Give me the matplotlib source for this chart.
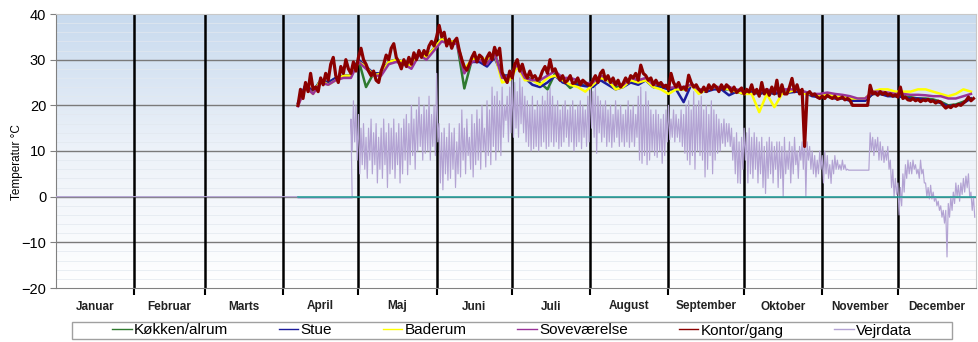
import numpy as np
import matplotlib
matplotlib.use("Agg")
import matplotlib.pyplot as plt
from matplotlib.colors import LinearSegmentedColormap
from matplotlib.patches import Rectangle
from matplotlib.lines import Line2D

plt.rcParams['font.family'] = ['Liberation Sans', 'DejaVu Sans']

# ---------------- data ----------------
months = ["Januar", "Februar", "Marts", "April", "Maj", "Juni", "Juli",
          "August", "September", "Oktober", "November", "December"]
month_starts = [0, 31, 59, 90, 120, 151, 181, 212, 243, 273, 304, 334, 365]
y_ticks = [-20, -10, 0, 10, 20, 30, 40]

series_names = ["Køkken/alrum", "Stue", "Baderum", "Soveværelse", "Kontor/gang", "Vejrdata"]
series_colors = ["#2f7a2f", "#1c1c9c", "#ffff00", "#993399", "#8b0000", "#b3a3d3"]

# Kontor/gang: daily values, day-of-year 96..364
kontor_days = list(range(96, 365))
kontor = [
    20.0, 23.5, 21.5, 25.0, 23.0, 27.0, 23.5, 24.0, 23.0, 26.0,
    24.5, 27.0, 25.5, 29.0, 30.5, 26.5, 25.0, 28.5, 27.0, 30.0,
    28.0, 27.0, 29.5, 27.5, 30.5, 32.5, 30.0, 29.0, 27.5, 26.5,
    27.5, 25.5, 25.0, 27.5, 29.0, 31.0, 30.0, 32.5, 33.5, 30.5,
    29.5, 28.0, 30.0, 28.5, 30.5, 29.0, 31.5, 30.0, 32.0, 30.5,
    32.0, 31.0, 33.0, 34.0, 33.0, 35.0, 37.5, 35.0, 36.0, 33.0,
    34.5, 32.5, 34.0, 34.7, 32.0, 30.0, 28.4, 27.7, 29.0, 30.5,
    31.6, 29.5, 31.0, 30.5, 29.0, 30.5, 31.5, 30.0, 32.7, 31.0,
    32.5, 27.2, 26.0, 25.0, 27.5, 26.0, 29.0, 30.0, 27.5, 29.0,
    27.0, 26.0, 27.5, 26.0, 26.5, 25.5, 26.0, 27.5, 28.5, 27.0,
    30.0, 27.5, 28.0, 26.5, 25.5, 26.5, 25.0, 25.5, 26.5, 24.8,
    25.0, 26.0, 24.5, 25.5, 25.0, 24.5, 24.4, 25.5, 26.5, 25.0,
    27.0, 27.7, 25.5, 26.5, 25.0, 26.0, 24.5, 25.5, 24.0, 24.8,
    26.0, 25.0, 26.5, 26.0, 27.0, 25.5, 28.8, 27.0, 26.5, 25.5,
    26.0, 24.5, 25.5, 24.5, 25.0, 24.0, 24.4, 23.5, 27.0, 25.0,
    24.0, 25.0, 23.5, 24.0, 23.3, 26.6, 25.0, 24.0, 24.5, 23.5,
    22.9, 24.0, 23.0, 24.5, 23.5, 24.5, 24.0, 23.0, 24.5, 23.5,
    24.5, 24.0, 23.0, 24.0, 22.8, 23.3, 23.8, 22.5, 23.5, 22.9,
    24.5, 22.5, 23.5, 22.0, 25.0, 22.5, 23.5, 22.2, 24.0, 22.5,
    25.5, 22.0, 24.5, 22.5, 22.5, 24.0, 25.9, 23.0, 24.5, 22.5,
    23.5, 11.0, 22.5, 23.0, 22.2, 22.5, 21.8, 21.5, 22.0, 21.5,
    22.2, 21.8, 21.5, 22.0, 21.3, 21.5, 21.8, 21.2, 21.5, 21.1,
    20.0, 20.0, 20.0, 20.0, 20.0, 20.0, 20.0, 24.4, 22.5, 22.8,
    22.2, 23.0, 22.4, 22.8, 22.2, 22.5, 22.0, 22.3, 21.8, 24.0,
    21.5, 21.8, 21.2, 21.1, 21.5, 21.0, 21.3, 20.8, 21.2, 21.0,
    21.3, 20.8, 21.0, 20.5, 20.9, 20.7, 20.0, 19.4, 19.8, 19.5,
    20.0, 19.8, 20.2, 20.0, 20.5, 21.0, 21.8, 21.0, 21.5,
]

# Other rooms: every third day, day-of-year 96..363
room_days = list(range(96, 364, 3))
sovevaerelse = [
    19.8, 24, 22.5, 25, 24.5, 25.5, 26, 26, 29.5, 28,
    26.5, 26.5, 29, 29.5, 29, 28, 31, 30, 32, 34,
    33.5, 33.5, 27, 29.5, 30, 29, 31.5, 26, 26.5, 29,
    26, 25.5, 25.5, 26.5, 27.5, 26, 26, 25.5, 24.8, 25,
    26.5, 26, 24.5, 24.5, 26, 25.5, 26, 24.5, 24.8, 23.8,
    24, 24, 24.5, 23.5, 23.5, 24, 24, 24, 23.5, 23,
    23.5, 23, 23.5, 23, 23.5, 23.5, 23.5, 23, 22.5, 22.5,
    22.8, 22.5, 22.3, 22, 21.5, 21.5, 23, 23, 22.8, 22.5,
    22.5, 22.3, 22.3, 22.2, 22, 22, 21.5, 21.5, 22, 22.5,
]
stue = [
    20.5, 24.5, 23, 25.5, 25, 26, 26.5, 26.5, 30, 28.5,
    27, 27, 29.5, 30, 29.5, 28.5, 31.5, 30.5, 32.5, 34.5,
    34, 34, 28, 29.5, 29.5, 28.5, 30.5, 26.5, 26.5, 28.5,
    26, 24.5, 24, 25, 26.5, 25, 24.5, 24.5, 24.2, 24,
    25.5, 24.5, 23.5, 24, 25, 24.5, 25.5, 24, 24, 23.5,
    23.5, 20.7, 24.5, 23.5, 23, 23.5, 23.5, 22.2, 23, 22.5,
    23, 22.5, 23, 22.5, 23, 22.8, 23, 22.8, 22, 21.8,
    22, 21.5, 21.5, 21, 21, 21, 22.5, 22.5, 22, 22,
    21.8, 21.5, 21.5, 21.3, 21, 20.5, 19.8, 20, 20.5, 21.5,
]
baderum = [
    20, 24, 22.5, 25.5, 24.5, 25.5, 26.5, 26.5, 29.5, 28.5,
    26.5, 27, 29.5, 30, 29.5, 28.5, 31.5, 30.5, 32.5, 34.5,
    34, 34, 28, 30, 30.5, 30, 31.5, 25, 25.5, 28.5,
    25.5, 25.5, 24.5, 26, 26.5, 25.5, 24.5, 24, 23, 24.5,
    26, 25.5, 23.5, 24, 25.5, 25, 25.5, 24, 23.5, 22.5,
    23.5, 23.5, 24.5, 22.5, 23.5, 24, 24, 23.5, 23, 22.5,
    22.5, 18.5, 22.5, 19.6, 22.5, 23, 23.5, 22.5, 22.5, 22,
    22.5, 21.8, 22, 21.5, 21.5, 21.5, 23, 23.5, 23.5, 23,
    23, 23, 23.5, 23.5, 23, 22.5, 22, 22.5, 23.5, 23,
]
koekken = [
    20, 24.5, 23, 25.5, 25, 26, 26.5, 26.5, 30, 24,
    27, 27, 29.5, 30, 29.5, 28.5, 31.5, 30.5, 32.5, 34.5,
    34, 34, 23.7, 30, 30.5, 29.5, 31.5, 26.5, 26.5, 29,
    26.5, 25.5, 25, 23.5, 27, 25.5, 23.8, 25, 24.5, 24.5,
    26, 25.5, 24, 24.2, 25.5, 25, 25.5, 24, 24.5, 23.5,
    23.5, 23.5, 24.5, 23.5, 23, 23.8, 23.5, 23.5, 23, 22.5,
    23, 22.5, 23, 22.5, 23, 23, 23, 22.8, 22.2, 21.8,
    22, 21.8, 21.6, 21.2, 21, 21, 22.5, 22.5, 22.2, 22,
    22, 21.8, 21.5, 21.5, 21.3, 20.8, 20, 20.2, 20.8, 21.5,
]

# Vejrdata: flat before day 117, then daily max / min
vejr_flat_days = [0, 96, 96, 117.5]
vejr_flat = [0.0, 0.0, -0.3, -0.3]
vejr_days = list(range(117, 365))
vejr_hi = [
    17, 21, 20, 18, 15, 16, 13, 15, 17, 14,
    16, 13, 15, 17, 14, 16, 15, 17, 14, 16,
    15, 17, 18, 16, 20, 17, 19, 21.8, 18, 20,
    19, 22, 18, 20, 27, 16, 14, 15, 13, 16,
    14, 15, 12, 16, 19, 15, 17, 13, 18, 16,
    19, 17, 20, 15, 21, 19, 24, 22, 23, 21,
    24, 20, 22, 24, 26, 25, 23, 26, 24, 22,
    21, 20, 22, 19, 21, 20, 22, 21, 23, 24,
    22, 20, 21, 19, 20, 21, 19, 20, 21, 19,
    20, 21, 20, 19, 22, 25, 23, 24, 22, 21,
    20, 21, 19, 20, 18, 21, 19, 20, 18, 19,
    21, 19, 20, 18, 22, 24, 20, 23, 21, 19,
    18, 19, 18, 17, 18, 19, 20, 17, 19, 18,
    17, 19, 18, 20, 21, 19, 23, 20, 21, 22,
    19, 20, 18, 21, 19, 18, 17, 16, 17, 16,
    16, 15, 13, 14, 12, 13, 15, 14, 15, 13,
    14, 13, 12, 13, 11, 12, 13, 12, 11, 12,
    12, 11, 13, 10, 12, 11, 13, 10, 11, 12,
    14, 12, 11, 10, 9, 8, 10, 9, 10, 9,
    7, 8, 9, 8, 7, 8, 7, 6, 5.8, 5.8,
    5.8, 5.8, 5.8, 5.8, 5.8, 5.8, 14, 13, 12.5, 13,
    12, 11, 10, 11, 8, 6, 4, 3, 2, 5,
    7, 8, 7.5, 8, 7, 6, 8, 6, 3, 2,
    2.5, 1, 0, -1, -2, -3, -3, -1.5, 0, 1,
    3, 2.5, 3, 4, 4.5, 5, 1, 0,
]
vejr_lo = [
    10, 12, 8, 5, 7, 6, 4, 8, 5, 7,
    3, 6, 4, 7, 2, 5, 6, 4, 7, 3,
    5, 8, 4.8, 7, 9, 6, 10, 11, 8, 9.5,
    10, 8, 11, 9, 12, 3, 1.5, 5, 3.6, 4,
    6, 2, 5, 4.3, 8, 5, 9, 6, 4.3, 7,
    8, 6, 10, 6.5, 9, 7, 11, 8, 10, 9,
    13, 16.7, 12, 14, 13, 15, 13, 16, 14, 12,
    11, 10, 10.5, 11, 10, 11, 12, 10.5, 11, 12,
    11, 12, 10.5, 11, 12, 13, 11, 12, 10, 11,
    12, 10.5, 13, 11, 12, 15, 13, 9.5, 14, 12,
    13, 11, 12, 10.8, 12, 13, 11, 12, 11, 12,
    10.8, 12, 11, 13, 8, 7.3, 9, 7, 8, 10,
    9, 8.6, 10, 7.3, 9, 12, 12.5, 13, 12, 13,
    12, 11, 9.5, 8, 7, 9, 6, 10, 9, 8,
    4.3, 6, 9, 5, 8, 9.5, 10, 11.7, 11, 12,
    11, 8, 5, 3, 2.9, 6, 8, 3, 5, 4,
    6, 3, 5, 2, 0.7, 4, 5, 3, 6, 2,
    4, 0, 5, 6, 3, 5, 7, 4, 8, 6,
    0, 8, 6, 5, 4.3, 5, 6, 3, 5, 4,
    2.9, 5, 6, 6, 5.8, 6, 5.8, 5.8, 5.8, 5.8,
    5.8, 5.8, 5.8, 5.8, 5.8, 5.8, 10, 9, 10, 8,
    8, 7.5, 8, 6, 2, 0, 0.5, -4, -2, 1,
    4, 5, 5, 6, 5, 4, 5, 3, 0, -0.5,
    -0.5, -1, -2, -3, -4.5, -5.8, -13.2, -4.5, -3, -1.5,
    0, -1, 0.5, 1, 2, 0, -3, -4.5,
]

# extra zero-level trace (teal) shown from day 96
zero_days = [96, 365]
zero_vals = [0, 0]

# ---------------- figure ----------------
fig = plt.figure(figsize=(9.79, 3.42), dpi=100)
ax = fig.add_axes([56 / 979, 1 - 288 / 342, 920 / 979, 274 / 342])

xmin, xmax = month_starts[0], month_starts[-1]
ymin, ymax = y_ticks[0], y_ticks[-1]

# gradient background
grad = np.linspace(0, 1, 256).reshape(-1, 1)
cmap = LinearSegmentedColormap.from_list("bg", ["#ffffff", "#edf2f9", "#c8daee"])
ax.imshow(grad, cmap=cmap, origin="lower", aspect="auto",
          extent=[xmin, xmax, ymin, ymax], zorder=0)

# faint minor grid every 2 degrees
for v in range(ymin + 2, ymax, 2):
    if v % 10:
        ax.axhline(v, color="#e2e8ef", lw=0.5, zorder=0.5)
# major grid
for v in y_ticks[1:-1]:
    ax.axhline(v, color="#7a7a7a", lw=1.0, zorder=1)
# month boundaries
for d in month_starts[1:-1]:
    ax.axvline(d, color="black", lw=1.8, zorder=2)

# weather: interleave daily max and min
vx = list(vejr_flat_days)
vy = list(vejr_flat)
for d, h, l in zip(vejr_days, vejr_hi, vejr_lo):
    vx += [d, d + 0.5]
    vy += [h, l]
ax.plot(vx, vy, color=series_colors[5], lw=0.85, zorder=3)
ax.plot(zero_days, zero_vals, color="#1f9e9a", lw=1.1, zorder=3.5)

# rooms
room_series = [koekken, stue, baderum, sovevaerelse]
for vals, c in zip(room_series, series_colors[:4]):
    ax.plot(room_days, vals, color=c, lw=1.8, zorder=4)
ax.plot(kontor_days, kontor, color=series_colors[4], lw=2.3, zorder=5)

ax.set_xlim(xmin, xmax)
ax.set_ylim(ymin, ymax)

# axes styling
for s in ["left", "bottom"]:
    ax.spines[s].set_color("#808080")
for s in ["top", "right"]:
    ax.spines[s].set_color("#c8c8c8")
ax.set_yticks(y_ticks)
ax.tick_params(axis="y", labelsize=10.5, length=4, color="#808080", pad=3)
ax.set_xticks(month_starts[1:-1])
ax.set_xticklabels([])
ax.tick_params(axis="x", which="major", length=5, width=1.5, color="black")
mids = [(a + b) / 2 for a, b in zip(month_starts[:-1], month_starts[1:])]
ax.set_xticks(mids, minor=True)
ax.set_xticklabels(months, minor=True, fontsize=8.5, fontweight="bold", color="#222222")
ax.tick_params(axis="x", which="minor", length=0, pad=9)

fig.text(17 / 979, 1 - 162 / 342, "Temperatur °C", rotation=90,
         ha="center", va="center", fontsize=8.5)

# legend
fig.patches.append(Rectangle((72 / 979, 1 - 339 / 342), 880 / 979, 17 / 342,
                             transform=fig.transFigure, facecolor="white",
                             edgecolor="#a0a0a0", lw=1.0, zorder=0))
handles = [Line2D([], [], color=c, lw=1.0) for c in series_colors]
fig.legend(handles, series_names, loc="center",
           bbox_to_anchor=(512 / 979, 1 - 330.5 / 342), ncol=6, frameon=False,
           fontsize=11, handlelength=1.3, handletextpad=0.15, columnspacing=3.3,
           borderpad=0.1)

fig.savefig("out.png", dpi=100)
